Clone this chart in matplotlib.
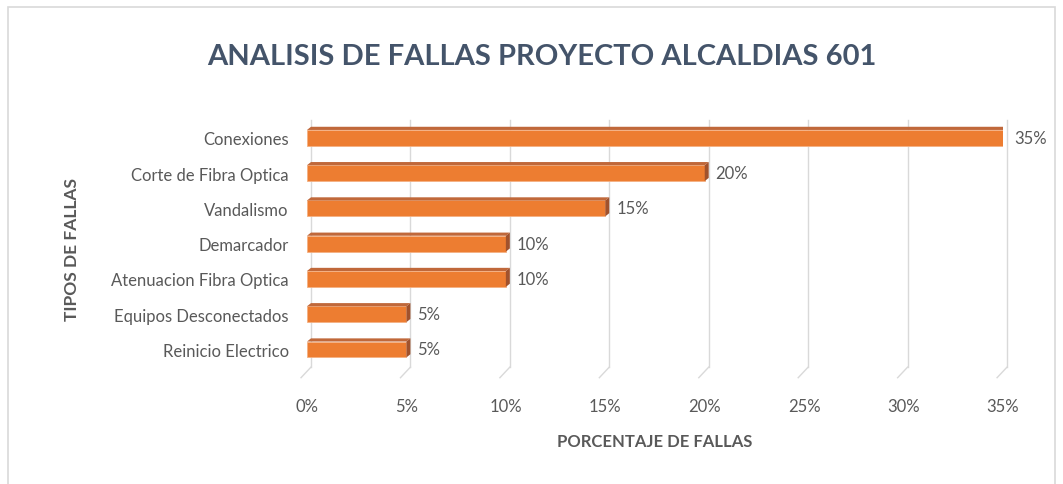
import matplotlib
matplotlib.use("Agg")
import matplotlib.pyplot as plt
from matplotlib.patches import Polygon, Rectangle
from matplotlib.ticker import PercentFormatter

plt.rcParams['font.family'] = ['Lato', 'DejaVu Sans']

categorias = ['Conexiones', 'Corte de Fibra Optica', 'Vandalismo', 'Demarcador',
              'Atenuacion Fibra Optica', 'Equipos Desconectados', 'Reinicio Electrico']
porcentajes = [35, 20, 15, 10, 10, 5, 5]
ticks_x = [0, 5, 10, 15, 20, 25, 30, 35]

gris = '#595959'
azul = '#44546A'
naranja = '#ED7D31'

fig = plt.figure(figsize=(10.63, 4.85), dpi=100)
ax = fig.add_axes([0.2888, 0.241, 0.6548, 0.509])

# marco del grafico
fig.patches.append(Rectangle((8 / 1063, -0.05), 1047 / 1063, 1 - 8 / 485 + 0.05,
                             transform=fig.transFigure, fill=False,
                             edgecolor='#D9D9D9', linewidth=1.2))

y = list(range(len(categorias)))
h = 0.45
dx, dy = 0.2, 0.09

ax.barh(y, porcentajes, height=h, color=naranja, edgecolor='#F4B183',
        linewidth=0.6, zorder=3)
for yi, v in zip(y, porcentajes):
    top = yi - h / 2
    bot = yi + h / 2
    ax.add_patch(Polygon([(0, top), (v, top), (v + dx, top - dy), (dx, top - dy)],
                         closed=True, facecolor='#C0683A', edgecolor='none', zorder=3))
    ax.add_patch(Polygon([(v, top), (v + dx, top - dy), (v + dx, bot - dy), (v, bot)],
                         closed=True, facecolor='#A0522D', edgecolor='none', zorder=3))
    ax.text(v + 0.55, yi, f'{v}%', va='center', ha='left', fontsize=12, color=gris)

ax.set_ylim(len(categorias) - 0.5, -0.5)
ax.set_xlim(0, 35)
ax.set_yticks(y)
ax.set_yticklabels(categorias, fontsize=12, color=gris)
ax.set_xticks(ticks_x)
ax.xaxis.set_major_formatter(PercentFormatter(decimals=0))
ax.tick_params(axis='x', labelsize=12, labelcolor=gris, length=0, pad=22)
ax.tick_params(axis='y', length=0, pad=13)

# lineas de division con pie inclinado
for t in ticks_x:
    ax.plot([t + dx, t + dx], [-0.5, len(categorias) - 0.5], color='#D9D9D9',
            linewidth=1, zorder=1, clip_on=False)
    ax.plot([t + dx, t - 0.3], [len(categorias) - 0.5, len(categorias) - 0.2],
            color='#D9D9D9', linewidth=1, zorder=1, clip_on=False)

for s in ax.spines.values():
    s.set_visible(False)

ax.set_xlabel('PORCENTAJE DE FALLAS', fontsize=12, fontweight='bold', color=gris, labelpad=14)
fig.text(72 / 1063, 1 - 250 / 485, 'TIPOS DE FALLAS', rotation=90, fontsize=12.5,
         fontweight='bold', color=gris, ha='center', va='center')
fig.text(542 / 1063, 1 - 57 / 485, 'ANALISIS DE FALLAS PROYECTO ALCALDIAS 601',
         fontsize=21, fontweight='bold', color=azul, ha='center', va='center')

fig.savefig('out.png', dpi=100)
